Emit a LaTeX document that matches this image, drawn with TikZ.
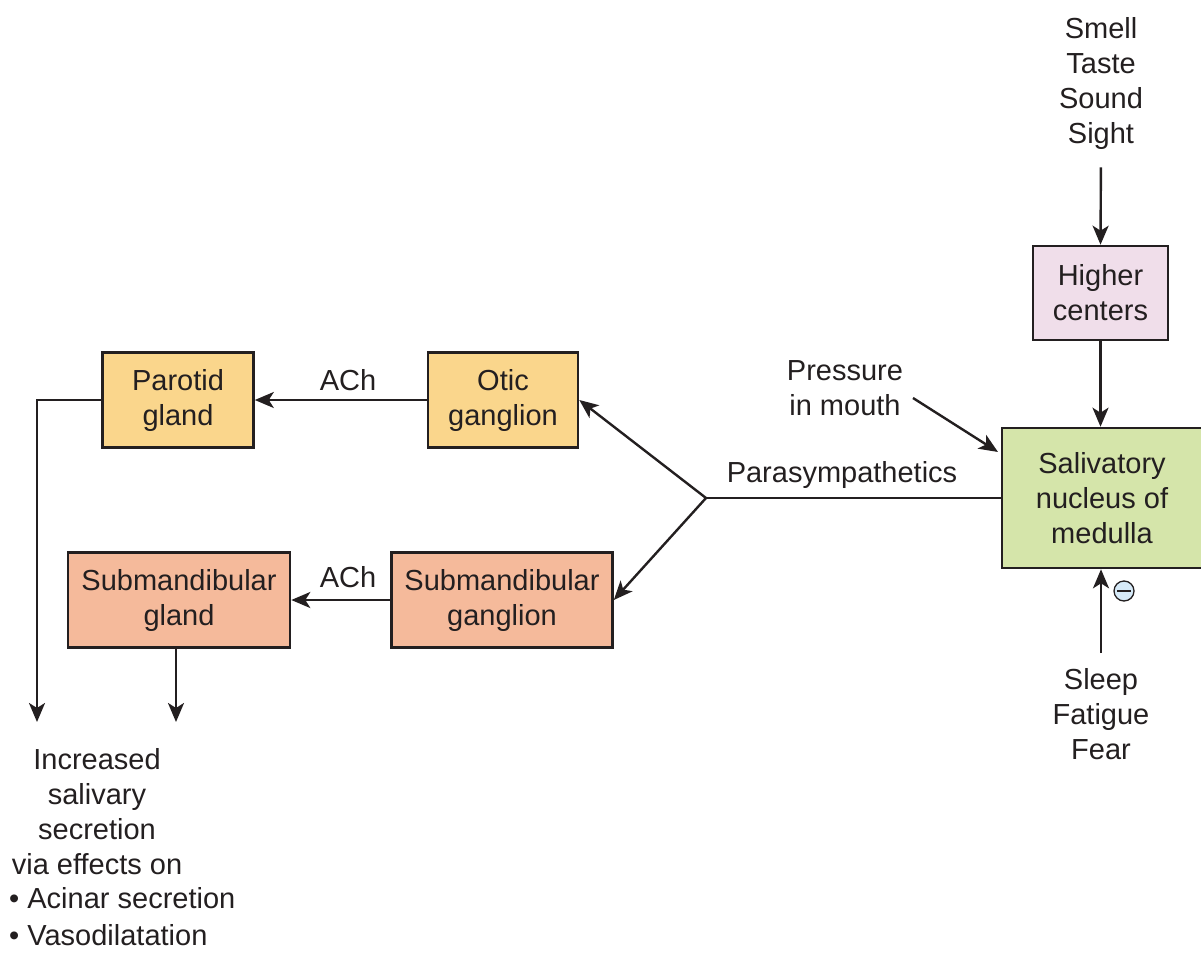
\documentclass[tikz,border=0pt]{standalone}
\usepackage{fontspec}
\setmainfont{Liberation Sans}
\usetikzlibrary{arrows.meta}
\definecolor{gangyellow}{RGB}{250,214,140}
\definecolor{submsalmon}{RGB}{245,186,155}
\definecolor{higherpink}{RGB}{240,222,234}
\definecolor{medgreen}{RGB}{213,229,170}
\definecolor{minusblue}{RGB}{214,234,248}
\definecolor{ink}{RGB}{35,31,32}
\begin{document}
\begin{tikzpicture}[x=1pt,y=-1pt,
  every node/.style={font=\fontsize{29}{35}\selectfont, text=ink},
  box/.style={draw=ink, line width=2.6pt, align=center, inner sep=0pt},
  lbl/.style={align=center, inner sep=0pt},
  link/.style={draw=ink, line width=2.4pt},
  arr/.style={link, -{Stealth[length=19pt,width=16pt,inset=5pt]}}]
\useasboundingbox (0,0) rectangle (1201,960);

% boxes
\node[box, fill=gangyellow, minimum width=151pt, minimum height=95pt] (par) at (178,400) {Parotid\\gland};
\node[box, fill=gangyellow, minimum width=150pt, minimum height=95pt] (otic) at (503,400) {Otic\\ganglion};
\node[box, fill=submsalmon, minimum width=222pt, minimum height=95pt] (subgl) at (179,600) {Submandibular\\gland};
\node[box, fill=submsalmon, minimum width=221pt, minimum height=95pt] (subga) at (502,600) {Submandibular\\ganglion};
\node[box, fill=higherpink, minimum width=135pt, minimum height=94pt] (higher) at (1100.5,293) {Higher\\centers};
\node[box, fill=medgreen, minimum width=200pt, minimum height=140pt] (sal) at (1102,498) {Salivatory\\nucleus of\\medulla};

% free text
\node[lbl, anchor=north] (senses) at (1101,17) {Smell\\Taste\\Sound\\Sight};
\node[lbl, anchor=north] (sleep) at (1101,668) {Sleep\\Fatigue\\Fear};
\node[lbl, anchor=north] (press) at (845,360) {Pressure\\in mouth};
\node[lbl, anchor=base] (para) at (842,482) {Parasympathetics};
\node[lbl, anchor=base] (ach1) at (348,390) {ACh};
\node[lbl, anchor=base] (ach2) at (348,587) {ACh};
\node[lbl, anchor=north] (incr) at (97,748) {Increased\\salivary\\secretion\\via effects on};
\node[lbl, anchor=north west, align=left, font=\fontsize{29}{37}\selectfont] (effects) at (9,887) {\textbullet\ Acinar secretion\\\textbullet\ Vasodilatation};

% inhibition mark
\node[circle, draw=ink, fill=minusblue, line width=1.3pt, minimum size=20pt, inner sep=0pt] (minus) at (1124,591) {};
\draw[ink, line width=1.5pt] ([xshift=-7pt]minus.center) -- ([xshift=7pt]minus.center);

% connectors
\coordinate (J) at (706,498);
\coordinate (pstart) at (913,398);
\coordinate (pend) at (998,452);
\coordinate (out1) at (37,722);
\coordinate (out2) at (176,722);

\draw[arr, shorten <=18pt] (senses.south) -- (higher.north);
\draw[arr] (higher.south) -- (sal.north -| higher.south);
\draw[arr, shorten <=15pt] (sleep.north) -- (sal.south -| sleep.north);
\draw[arr] (pstart) -- (pend);
\draw[link] (sal.west) -- (J);
\draw[arr] (J) -- (otic.east);
\draw[arr] (J) -- (subga.east);
\draw[arr] (otic.west) -- (par.east);
\draw[arr] (subga.west) -- (subgl.east);
\draw[arr] (par.west) -| (out1);
\draw[arr] (subgl.south -| out2) -- (out2);
\end{tikzpicture}
\end{document}
